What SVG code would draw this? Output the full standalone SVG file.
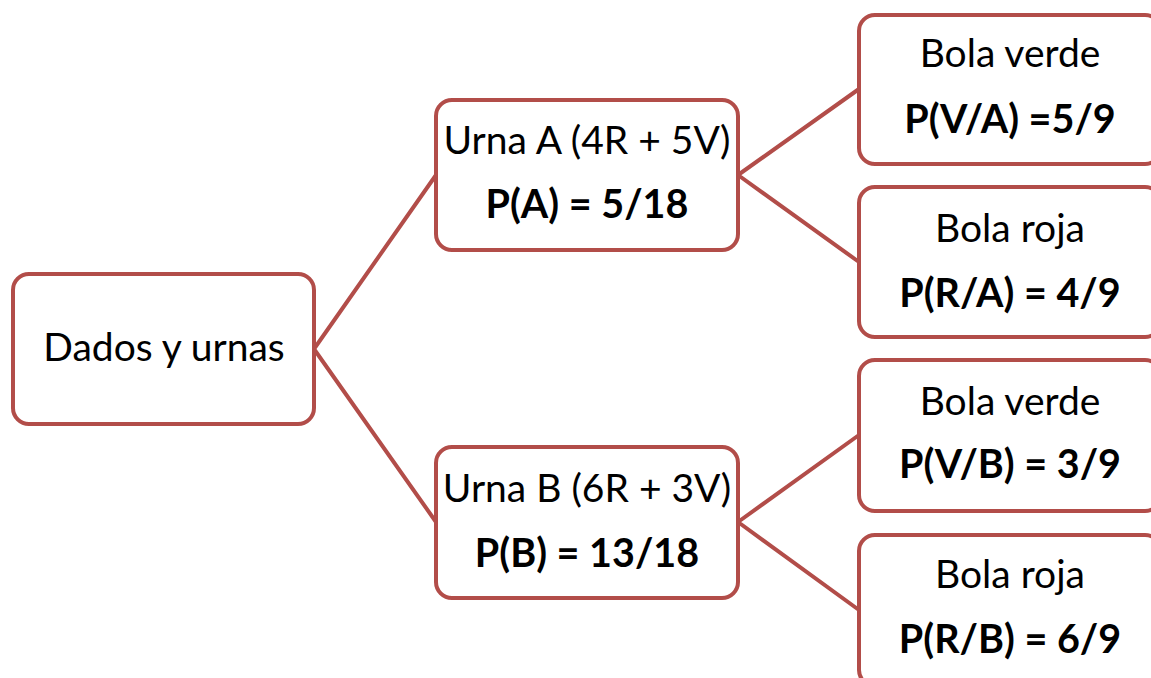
<svg xmlns="http://www.w3.org/2000/svg" width="1151" height="678" viewBox="0 0 1151 678">
<style>
.box{fill:#fff;stroke:#B24D49;stroke-width:4}
.edge{stroke:#B24D49;stroke-width:4;fill:none}
text{font-family:Lato,"Open Sans","Liberation Sans",sans-serif;font-size:39px;fill:#000;text-anchor:middle}
.b{font-weight:bold;font-size:39.5px}
</style>
<rect width="1151" height="678" fill="#fff"/>
<g id="connectors">
<path class="edge" d="M314,349 L436,175 M314,349 L436,522 M738,175 L859,89 M738,175 L859,262 M738,522 L859,435 M738,522 L859,610"/>
</g>
<g id="root"><rect class="box" x="13" y="274" width="301" height="150" rx="16"/><text x="164" y="361">Dados y urnas</text></g>
<g id="urnaA"><rect class="box" x="436" y="100" width="302" height="150" rx="16"/><text x="587" y="154">Urna A (4R + 5V)</text><text class="b" x="587" y="218">P(A) = 5/18</text></g>
<g id="urnaB"><rect class="box" x="436" y="447" width="302" height="151" rx="16"/><text x="587" y="502">Urna B (6R + 3V)</text><text class="b" x="587" y="567">P(B) = 13/18</text></g>
<g id="leafVA"><rect class="box" x="859" y="15" width="302" height="149" rx="16"/><text x="1010" y="67">Bola verde</text><text class="b" x="1010" y="133">P(V/A) =5/9</text></g>
<g id="leafRA"><rect class="box" x="859" y="187" width="302" height="150" rx="16"/><text x="1010" y="242">Bola roja</text><text class="b" x="1010" y="307">P(R/A) = 4/9</text></g>
<g id="leafVB"><rect class="box" x="859" y="360" width="302" height="151" rx="16"/><text x="1010" y="415">Bola verde</text><text class="b" x="1010" y="478">P(V/B) = 3/9</text></g>
<g id="leafRB"><rect class="box" x="859" y="535" width="302" height="151" rx="16"/><text x="1010" y="588">Bola roja</text><text class="b" x="1010" y="653">P(R/B) = 6/9</text></g>
</svg>
